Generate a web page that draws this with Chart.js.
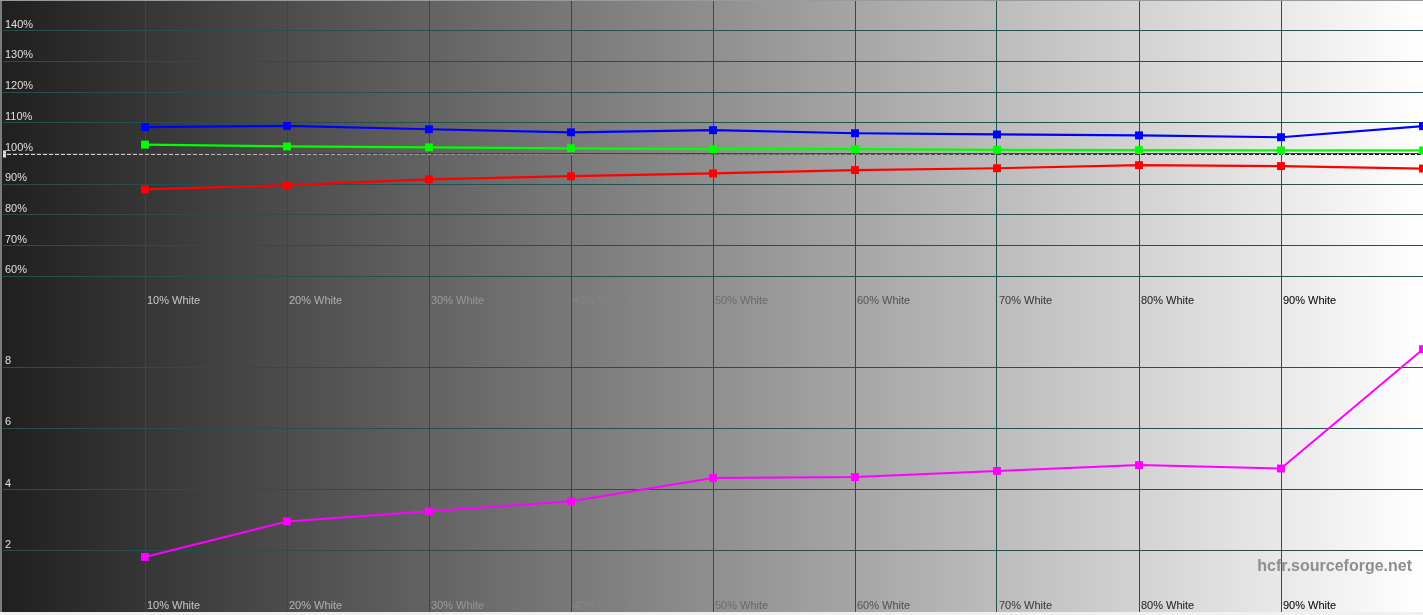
<!DOCTYPE html>
<html>
<head>
<meta charset="utf-8">
<script src="https://cdn.jsdelivr.net/npm/chart.js@4.4.1/dist/chart.umd.min.js"></script>
<style>
  html, body { margin: 0; padding: 0; background: #f0f0f0; overflow: hidden; }
  #wrap { position: relative; width: 1423px; height: 615px; }
  #levelsChart { position: absolute; left: 0; top: 0; }
  #deltaChart { position: absolute; left: 0; top: 306px; }
</style>
</head>
<body>
<div id="wrap">
  <canvas id="levelsChart" width="1423" height="307"></canvas>
  <canvas id="deltaChart" width="1423" height="306"></canvas>
</div>
<script>
// grey steps measured (% stimulus)
var stimulus = [10, 20, 30, 40, 50, 60, 70, 80, 90, 100];
var stimulusLabels = ['10% White', '20% White', '30% White', '40% White', '50% White',
                      '60% White', '70% White', '80% White', '90% White'];

// RGB levels, % of target
var redLevel   = [88.3, 89.7, 91.6, 92.6, 93.5, 94.6, 95.2, 96.2, 95.9, 95.1];
var greenLevel = [102.9, 102.3, 102.0, 101.7, 101.4, 101.4, 101.2, 101.1, 101.0, 101.0];
var blueLevel  = [108.6, 109.0, 107.9, 106.9, 107.6, 106.6, 106.2, 105.9, 105.3, 108.9];

// delta E per step
var deltaE = [1.80, 2.96, 3.29, 3.62, 4.38, 4.41, 4.61, 4.80, 4.69, 8.59];

var levelTicks = [60, 70, 80, 90, 100, 110, 120, 130, 140];
var deltaTicks = [2, 4, 6, 8];

var GRID = '#265050';
var FONT = '11px "Liberation Sans", Arial, sans-serif';

function pts(values) {
    return stimulus.map(function (s, i) { return { x: s, y: values[i] }; });
}

function series(label, values, color, width) {
    return {
        label: label,
        data: pts(values),
        borderColor: color,
        backgroundColor: color,
        pointBackgroundColor: color,
        pointBorderWidth: 0,
        pointStyle: 'rect',
        pointRadius: 5.6,
        borderWidth: width,
        tension: 0
    };
}

// hcfr style: grey ramp behind, text painted inverted against it
function hcfrPlugin(tickValues, tickSuffix, isTop) {
    return {
        id: 'hcfr',
        beforeDraw: function (chart) {
            var ctx = chart.ctx;
            var g = ctx.createLinearGradient(0, 0, chart.width, 0);
            g.addColorStop(0, '#1f1f1f');
            g.addColorStop(1, '#ffffff');
            ctx.save();
            ctx.fillStyle = g;
            ctx.fillRect(0, 0, chart.width, chart.height);
            ctx.restore();
        },
        beforeDatasetsDraw: function (chart) {
            if (!isTop) return;
            var ctx = chart.ctx;
            var y = Math.round(chart.scales.y.getPixelForValue(100)) + 0.5;
            ctx.save();
            ctx.globalCompositeOperation = 'difference';
            ctx.strokeStyle = '#ffffff';
            ctx.fillStyle = '#ffffff';
            ctx.lineWidth = 1;
            ctx.setLineDash([4, 2]);
            ctx.beginPath();
            ctx.moveTo(chart.chartArea.left + 4, y);
            ctx.lineTo(chart.chartArea.right, y);
            ctx.stroke();
            ctx.fillRect(chart.chartArea.left, y - 4, 3, 7);
            ctx.restore();
        },
        afterDraw: function (chart) {
            var ctx = chart.ctx;
            var xs = chart.scales.x, ys = chart.scales.y;
            ctx.save();
            ctx.globalCompositeOperation = 'difference';
            ctx.fillStyle = '#ffffff';
            ctx.font = FONT;
            ctx.textAlign = 'left';
            ctx.textBaseline = 'alphabetic';
            tickValues.forEach(function (v) {
                ctx.fillText(v + tickSuffix, 5, ys.getPixelForValue(v) - 3);
            });
            stimulusLabels.forEach(function (lbl, i) {
                ctx.fillText(lbl, xs.getPixelForValue(stimulus[i]) + 2, chart.chartArea.bottom - 3);
            });
            ctx.restore();

            ctx.save();
            ctx.fillStyle = '#7c7c7c';
            ctx.fillRect(0, 0, 2, chart.height);
            if (isTop) {
                ctx.fillStyle = '#9a9a9a';
                ctx.fillRect(0, 0, chart.width, 1);
            } else {
                ctx.fillStyle = '#8e8e8e';
                ctx.font = 'bold 16px "Liberation Sans", Arial, sans-serif';
                ctx.textAlign = 'right';
                ctx.fillText('hcfr.sourceforge.net', 1412, 265);
            }
            ctx.restore();
        }
    };
}

function axes(yMin, yMax, yStep) {
    return {
        x: {
            type: 'linear', min: 0, max: 100,
            ticks: { display: false, stepSize: 10 },
            grid: {
                color: function (c) { return c.tick.value === 0 ? 'rgba(0,0,0,0)' : GRID; },
                drawTicks: false
            },
            border: { display: false }
        },
        y: {
            min: yMin, max: yMax,
            ticks: { display: false, stepSize: yStep },
            grid: {
                color: function (c) {
                    return (c.tick.value === yMin || c.tick.value === yMax) ? 'rgba(0,0,0,0)' : GRID;
                },
                drawTicks: false
            },
            border: { display: false }
        }
    };
}

var common = {
    responsive: false,
    animation: false,
    devicePixelRatio: 1,
    events: [],
    layout: { autoPadding: false, padding: { left: 3, right: 0, top: 0, bottom: 0 } },
    plugins: { legend: { display: false }, tooltip: { enabled: false } }
};

new Chart(document.getElementById('levelsChart'), {
    type: 'line',
    data: {
        datasets: [
            series('Red', redLevel, '#ff0000', 2.2),
            series('Green', greenLevel, '#00ff00', 2.2),
            series('Blue', blueLevel, '#0000ff', 2.2)
        ]
    },
    options: Object.assign({}, common, { scales: axes(50, 150, 10) }),
    plugins: [hcfrPlugin(levelTicks, '%', true)]
});

new Chart(document.getElementById('deltaChart'), {
    type: 'line',
    data: {
        datasets: [series('Delta E', deltaE, '#ff00ff', 2)]
    },
    options: Object.assign({}, common, { scales: axes(0, 10, 2) }),
    plugins: [hcfrPlugin(deltaTicks, '', false)]
});
</script>
</body>
</html>
